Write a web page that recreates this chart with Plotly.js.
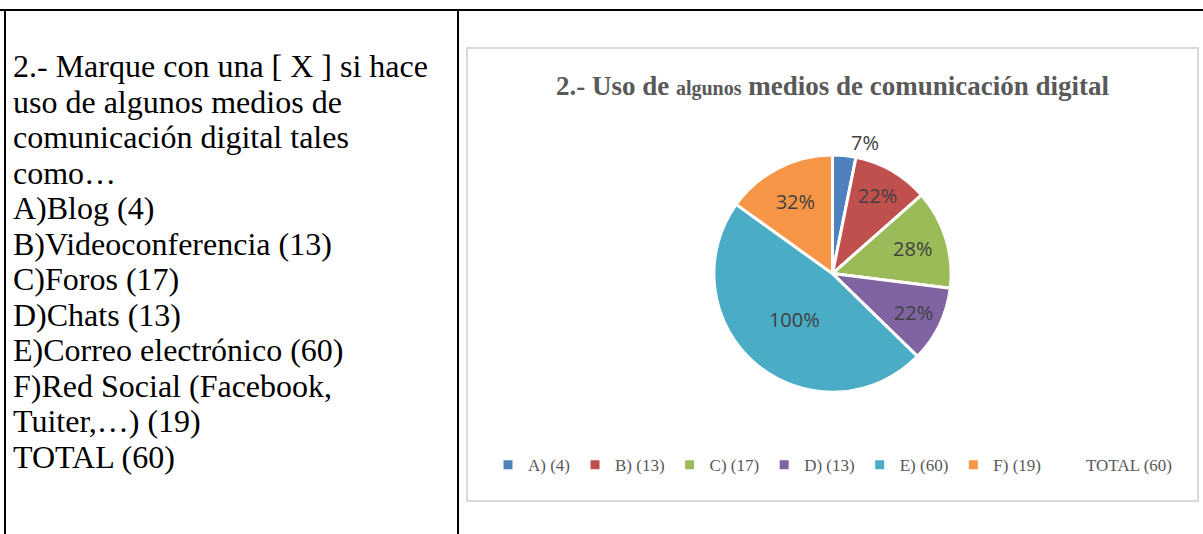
<!DOCTYPE html>
<html>
<head>
<meta charset="utf-8">
<script src="https://cdn.plot.ly/plotly-3.0.1.min.js"></script>
<style>
  html, body { margin: 0; padding: 0; background: #fff; }
  body { width: 1203px; height: 534px; position: relative; overflow: hidden; }
  .rule { position: absolute; background: #000; }
  #question {
    position: absolute; left: 13px; top: 49px;
    font-family: "Liberation Serif", "Times New Roman", serif;
    font-size: 32px; line-height: 35.5px; color: #000;
    white-space: nowrap;
  }
  #chartBox {
    position: absolute; left: 466px; top: 47px; width: 729px; height: 451px;
    border: 2px solid #d9d9d9;
  }
  #pieChart { width: 729px; height: 451px; }
</style>
</head>
<body>
<div class="rule" style="left:0; top:9px; width:1203px; height:2px;"></div>
<div class="rule" style="left:4px; top:10px; width:2px; height:524px;"></div>
<div class="rule" style="left:457px; top:10px; width:2px; height:524px;"></div>

<div id="question"></div>
<div id="chartBox"><div id="pieChart"></div></div>

<script>
// question text, one entry per printed line
const questionLines = [
    '2.- Marque con una [ X ] si hace',
    'uso de algunos medios de',
    'comunicación digital tales',
    'como…',
    'A)Blog (4)',
    'B)Videoconferencia (13)',
    'C)Foros (17)',
    'D)Chats (13)',
    'E)Correo electrónico (60)',
    'F)Red Social (Facebook,',
    'Tuiter,…) (19)',
    'TOTAL (60)'
];

const categories = ['A) (4)', 'B) (13)', 'C) (17)', 'D) (13)', 'E) (60)', 'F) (19)'];
const counts = [4, 13, 17, 13, 60, 19];
const totalLabel = 'TOTAL (60)';
const totalCount = 60;
const sliceColors = ['#4F81BD', '#C0504D', '#9BBB59', '#8064A2', '#4BACC6', '#F79646'];

document.getElementById('question').innerHTML = questionLines.join('<br>');

// percentages in the original are relative to the total of respondents (60)
const pctText = counts.map(v => Math.round(v / totalCount * 100) + '%');

const pieData = [{
    type: 'pie',
    labels: categories.concat([totalLabel]),
    values: counts.concat([0]),
    text: pctText.concat(['']),
    textinfo: 'text',
    textposition: ['outside', 'inside', 'inside', 'inside', 'inside', 'inside', 'none'],
    insidetextorientation: 'horizontal',
    textfont: { family: 'Open Sans, sans-serif', size: 20, color: '#404040' },
    sort: false,
    direction: 'clockwise',
    rotation: 0,
    marker: {
        colors: sliceColors.concat(['rgba(0,0,0,0)']),
        line: { color: '#ffffff', width: 3 }
    },
    domain: { x: [0.337, 0.663], y: [0.239, 0.765] },
    hoverinfo: 'label+value'
}];

const layout = {
    width: 729,
    height: 451,
    margin: { t: 0, b: 0, l: 0, r: 0 },
    paper_bgcolor: '#ffffff',
    title: {
        text: '<b>2.- Uso de <span style="font-size:20px">algunos</span> medios de comunicación digital</b>',
        font: { family: 'Liberation Serif, serif', size: 27, color: '#595959' },
        x: 0.5, xanchor: 'center',
        yref: 'container', y: 0.918, yanchor: 'middle'
    },
    showlegend: true,
    legend: {
        orientation: 'h',
        x: 0.5, xanchor: 'center',
        y: 0.077, yanchor: 'middle',
        font: { family: 'Liberation Serif, serif', size: 17, color: '#595959' },
        itemwidth: 30
    },
    uniformtext: { mode: 'show', minsize: 20 }
};

Plotly.newPlot('pieChart', pieData, layout, { displayModeBar: false, staticPlot: true });
</script>
</body>
</html>
